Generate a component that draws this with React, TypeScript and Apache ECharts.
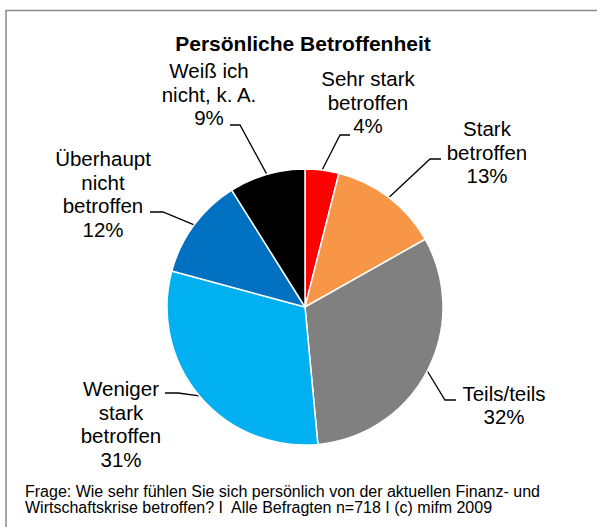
import React, { useEffect, useRef } from "react";
import * as echarts from "echarts";

const TITLE = "Persönliche Betroffenheit";
const categories = [
  "Sehr stark\nbetroffen",
  "Stark\nbetroffen",
  "Teils/teils",
  "Weniger\nstark\nbetroffen",
  "Überhaupt\nnicht\nbetroffen",
  "Weiß ich\nnicht, k. A.",
];
const values = [4, 13, 32, 31, 12, 9];
const colors = ["#FF0000", "#F79646", "#808080", "#00B0F0", "#0070C0", "#000000"];
const footnoteLines = [
  "Frage: Wie sehr fühlen Sie sich persönlich von der aktuellen Finanz- und",
  "Wirtschaftskrise betroffen? I  Alle Befragten n=718 I (c) mifm 2009",
];

// label placement (label centre, leader elbow, leader end)
const labelLayouts = [
  { x: 368, y: 102, elbow: [340, 135], end: [350, 135] },
  { x: 487, y: 152, elbow: [430, 159], end: [441, 159] },
  { x: 504, y: 405, elbow: [445, 400], end: [456, 400] },
  { x: 121, y: 424, elbow: [178, 393], end: [165, 393] },
  { x: 103, y: 194, elbow: [163, 212], end: [150, 212] },
  { x: 209, y: 94, elbow: [240, 125], end: [230, 125] },
];

const FONT = "'Liberation Sans', Arial, Helvetica, sans-serif";

export default function App() {
  const ref = useRef<HTMLDivElement>(null);
  useEffect(() => {
    if (!ref.current) return;
    const chart = echarts.init(ref.current, undefined, { renderer: "svg" });
    chart.setOption({
      animation: false,
      backgroundColor: "#ffffff",
      textStyle: { fontFamily: FONT },
      graphic: [
        {
          type: "rect",
          shape: { x: 6, y: 10.5, width: 800, height: 800 },
          style: { fill: "none", stroke: "#8a8a8a", lineWidth: 1.5 },
          silent: true,
        },
        {
          type: "text",
          x: 303,
          y: 43,
          style: {
            text: TITLE,
            font: `bold 21px ${FONT}`,
            fill: "#000",
            align: "center",
            verticalAlign: "middle",
          },
        },
        ...footnoteLines.map((line, i) => ({
          type: "text",
          x: 25,
          y: 491.5 + i * 16,
          style: {
            text: line,
            font: `16px ${FONT}`,
            fill: "#000",
            align: "left",
            verticalAlign: "middle",
          },
        })),
      ],
      series: [
        {
          type: "pie",
          center: [305, 307],
          radius: 138,
          startAngle: 90,
          clockwise: true,
          itemStyle: { borderColor: "#ffffff", borderWidth: 1.5 },
          label: {
            show: true,
            position: "outside",
            formatter: "{b}\n{c}%",
            fontFamily: FONT,
            fontSize: 20.5,
            lineHeight: 23.5,
            color: "#000",
            align: "center",
          },
          labelLine: {
            show: true,
            lineStyle: { color: "#000", width: 1.3 },
          },
          labelLayout: (params: any) => {
            const L = labelLayouts[params.dataIndex];
            const start = params.labelLinePoints ? params.labelLinePoints[0] : L.elbow;
            return {
              x: L.x,
              y: L.y,
              align: "center",
              verticalAlign: "middle",
              labelLinePoints: [start, L.elbow, L.end],
            };
          },
          data: categories.map((name, i) => ({
            name,
            value: values[i],
            itemStyle: { color: colors[i] },
          })),
        },
      ],
    });
    return () => chart.dispose();
  }, []);
  return (
    <div
      ref={ref}
      style={{ position: "fixed", left: 0, top: 0, width: 597, height: 527 }}
    />
  );
}
